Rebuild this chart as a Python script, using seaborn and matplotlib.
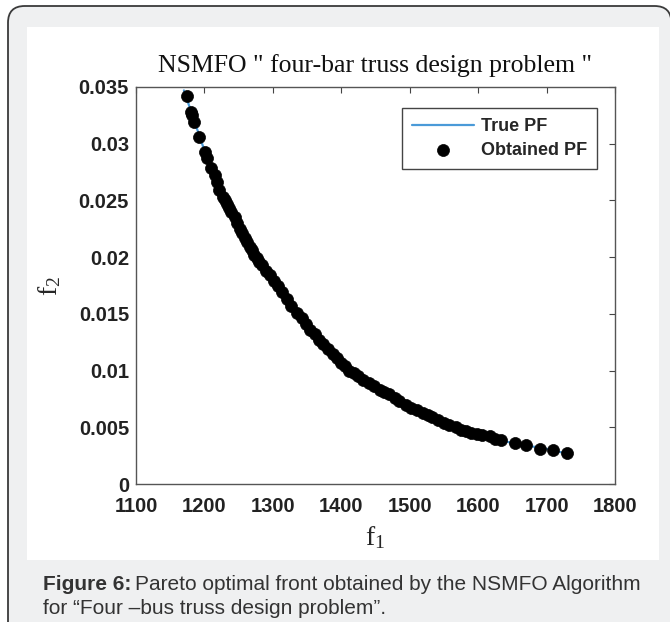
import numpy as np
import matplotlib
matplotlib.use("Agg")
from matplotlib import pyplot as plt
from matplotlib.patches import FancyBboxPatch, Rectangle
import seaborn as sns
import pandas as pd

# values
obtained_f1 = [1174, 1180, 1182, 1185, 1192, 1201, 1204, 1210, 1215, 1219,
               1222, 1227, 1230, 1233, 1236, 1239, 1244, 1248, 1252, 1255,
               1259, 1262, 1266, 1269, 1273, 1277, 1280, 1284, 1290, 1296,
               1302, 1308, 1314, 1320, 1327, 1335, 1342, 1349, 1355, 1361,
               1367, 1373, 1380, 1388, 1394, 1400, 1406, 1412, 1418, 1424,
               1432, 1441, 1448, 1456, 1463, 1470, 1478, 1485, 1494, 1502,
               1510, 1519, 1526, 1533, 1541, 1550, 1558, 1567, 1575, 1582,
               1589, 1598, 1605, 1617, 1625, 1633, 1654, 1670, 1690, 1710,
               1730]
obtained_f2 = [0.0342, 0.0328, 0.0325, 0.0319, 0.0306, 0.0293, 0.0287, 0.0279, 0.0272, 0.0266,
               0.0259, 0.0253, 0.0250, 0.0247, 0.0243, 0.0240, 0.0235, 0.0230, 0.0225, 0.0221,
               0.0217, 0.0213, 0.0209, 0.0206, 0.0202, 0.0199, 0.0196, 0.0193, 0.0188, 0.0184,
               0.0179, 0.0175, 0.0169, 0.0163, 0.0157, 0.0151, 0.0146, 0.0141, 0.0136, 0.0132,
               0.0127, 0.0123, 0.0119, 0.0115, 0.0111, 0.0107, 0.0104, 0.0100, 0.0098, 0.0095,
               0.0092, 0.0089, 0.0086, 0.0083, 0.0081, 0.0079, 0.0076, 0.0073, 0.0070, 0.0067,
               0.0065, 0.0063, 0.0061, 0.0059, 0.0056, 0.0054, 0.0052, 0.0050, 0.0048, 0.0047,
               0.0045, 0.0044, 0.0043, 0.0042, 0.0040, 0.0039, 0.0036, 0.0034, 0.0031, 0.0030,
               0.0027]

true_f1 = [1170, 1200, 1250, 1300, 1350, 1400, 1450, 1500, 1550, 1600, 1650, 1700, 1735]
true_f2 = [0.0347, 0.0294, 0.0228, 0.0181, 0.0140, 0.0107, 0.0085, 0.0068, 0.0054,
           0.0044, 0.0036, 0.0031, 0.0026]

xticks = [1100, 1200, 1300, 1400, 1500, 1600, 1700, 1800]
yticks = [0, 0.005, 0.01, 0.015, 0.02, 0.025, 0.03, 0.035]
yticklabels = ['0', '0.005', '0.01', '0.015', '0.02', '0.025', '0.03', '0.035']

df_obt = pd.DataFrame({'f1': obtained_f1, 'f2': obtained_f2})
df_true = pd.DataFrame({'f1': true_f1, 'f2': true_f2})

sns.set_style("white")
plt.rcParams['font.family'] = ['Liberation Sans', 'DejaVu Sans']

W, H = 670, 622
fig = plt.figure(figsize=(W / 100, H / 100), dpi=100)
fig.patch.set_facecolor('white')

# outer rounded frame (grey card) and white panel holding the figure
frame = FancyBboxPatch((8 / W, -0.1), 0.99, (622 - 6) / H + 0.1,
                       boxstyle="round,pad=0,rounding_size=0.025",
                       transform=fig.transFigure, facecolor='#eff0f1',
                       edgecolor='#3a3a3a', linewidth=1.3, zorder=0)
frame.set_mutation_aspect(W / H)
fig.patches.append(frame)
panel = Rectangle((27 / W, (H - 560) / H), (659 - 27) / W, (560 - 27) / H,
                  transform=fig.transFigure, facecolor='white',
                  edgecolor='none', zorder=1)
fig.patches.append(panel)

ax = fig.add_axes([136 / W, (H - 484) / H, (615 - 136) / W, (484 - 87) / H])
ax.set_zorder(2)

sns.lineplot(data=df_true, x='f1', y='f2', ax=ax, color='#4a9ad8',
             linewidth=1.6, label='True PF', sort=True)
sns.scatterplot(data=df_obt, x='f1', y='f2', ax=ax, color='black', s=75,
                edgecolor='black', linewidth=0.5, label='Obtained PF', zorder=3)

ax.set_xlim(1100, 1800)
ax.set_ylim(0, 0.035)
ax.set_xticks(xticks)
ax.set_yticks(yticks)
ax.set_yticklabels(yticklabels)
ax.tick_params(direction='in', length=4, width=0.8, color='#444444',
               top=True, right=True, labelsize=14.5)
ax.tick_params(axis='x', pad=9)
ax.tick_params(axis='y', pad=5)
for lab in ax.get_xticklabels() + ax.get_yticklabels():
    lab.set_fontweight('bold')
    lab.set_color('#222222')
for sp in ax.spines.values():
    sp.set_color('#555555')
    sp.set_linewidth(1.0)

ax.set_xlabel(r'$\mathregular{f_1}$', family='Liberation Serif', fontsize=20,
              labelpad=6)
ax.set_ylabel(r'$\mathregular{f_2}$', family='Liberation Serif', fontsize=20,
              labelpad=11)
ax.set_title('NSMFO " four-bar truss design problem "', family='Liberation Serif',
             fontsize=18.5, pad=11, color='#111111')

leg = ax.legend(loc='upper right', bbox_to_anchor=(0.962, 0.947), borderaxespad=0,
                frameon=True, fancybox=False, edgecolor='#444444', framealpha=1,
                handlelength=3.45, handletextpad=0.35, borderpad=0.55,
                labelspacing=0.4, prop={'weight': 'bold', 'size': 13})
leg.get_frame().set_linewidth(1.0)

# caption below the figure
cap_kw = dict(fontsize=15, color='#333333', va='center', ha='left')
t1 = fig.text(43 / W, 1 - 585 / H, 'Figure 6:', fontweight='bold', **cap_kw)
renderer = fig.canvas.get_renderer()
bb = t1.get_window_extent(renderer=renderer)
fig.text((bb.x1 + 4) / W, 1 - 585 / H,
         'Pareto optimal front obtained by the NSMFO Algorithm', **cap_kw)
fig.text(43 / W, 1 - 608 / H, 'for \u201cFour \u2013bus truss design problem\u201d.',
         **cap_kw)

fig.savefig('out.png', dpi=100, facecolor=fig.get_facecolor())
